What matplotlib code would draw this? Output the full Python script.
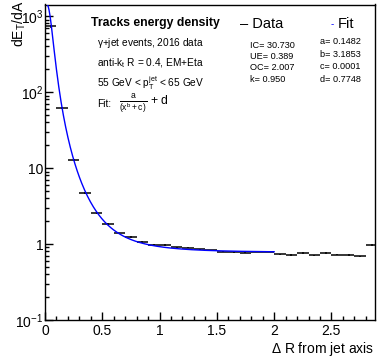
import matplotlib
matplotlib.use('Agg')
import matplotlib.pyplot as plt
import numpy as np

plt.rcParams['font.family'] = ['Liberation Sans', 'DejaVu Sans']
plt.rcParams['mathtext.fontset'] = 'custom'
plt.rcParams['mathtext.rm'] = 'Liberation Sans'
plt.rcParams['mathtext.it'] = 'Liberation Sans'
plt.rcParams['mathtext.bf'] = 'Liberation Sans:bold'

# bins de 0.1 en Delta R
bin_lo = [0.0, 0.1, 0.2, 0.3, 0.4, 0.5, 0.6, 0.7, 0.8, 0.9,
          1.0, 1.1, 1.2, 1.3, 1.4, 1.5, 1.6, 1.7, 1.8, 1.9,
          2.0, 2.1, 2.2, 2.3, 2.4, 2.5, 2.6, 2.7, 2.8]
dens = [730, 62, 12.6, 4.7, 2.55, 1.83, 1.38, 1.23, 1.06, 0.97,
        0.97, 0.90, 0.89, 0.85, 0.83, 0.79, 0.775, 0.77, 0.79, 0.79,
        0.73, 0.72, 0.76, 0.71, 0.76, 0.725, 0.72, 0.69, 0.97]
dens_err = [25, 2.0, 0.4, 0.15, 0.07, 0.05, 0.03, 0.03, 0.02, 0.02,
            0.02, 0.015, 0.015, 0.015, 0.015, 0.015, 0.015, 0.015, 0.015, 0.015,
            0.015, 0.015, 0.015, 0.015, 0.015, 0.015, 0.015, 0.015, 0.02]

# parámetros del ajuste a/(x^b+c)+d
fit_a, fit_b, fit_c, fit_d = 0.1482, 3.1853, 0.0001, 0.7748
fit_range = (0.0, 2.0)

info_left = ['IC= 30.730', 'UE= 0.389', 'OC= 2.007', 'k= 0.950']
info_right = ['a= 0.1482', 'b= 3.1853', 'c= 0.0001', 'd= 0.7748']

W, H = 384, 362
fig = plt.figure(figsize=(W/100, H/100), dpi=100)
fig.patch.set_facecolor('white')
ax = fig.add_axes([45/W, 1-320/H, 329.5/W, 315.5/H])

x = np.array(bin_lo) + 0.05
ax.errorbar(x, dens, xerr=0.05, yerr=dens_err, fmt='none',
            ecolor='black', elinewidth=1.1, capsize=0, zorder=3)

xf = np.linspace(fit_range[0], fit_range[1], 400)
yf = fit_a/(xf**fit_b+fit_c)+fit_d
ax.plot(xf, yf, color='#0000ff', lw=1.0, zorder=4)

ax.set_yscale('log')
ax.set_xlim(0, 2.876)
ax.set_ylim(0.1, 1420)
ax.set_xticks([0, 0.5, 1, 1.5, 2, 2.5])
ax.set_xticklabels(['0', '0.5', '1', '1.5', '2', '2.5'])
ax.set_xticks(np.arange(0, 2.85, 0.1), minor=True)
ax.set_yticks([0.1, 1, 10, 100, 1000])
ax.set_yticklabels(['$10^{-1}$', '1', '10', '$10^{2}$', '$10^{3}$'])
ax.tick_params(which='both', direction='in', labelsize=10, top=False, right=False)
ax.tick_params(which='major', length=6, width=1)
ax.tick_params(which='minor', length=3, width=1)
ax.tick_params(axis='x', pad=3)
ax.tick_params(axis='y', pad=1)
for s in ax.spines.values():
    s.set_linewidth(1)
    s.set_color('black')

ax.set_xlabel(r'$\Delta$ R from jet axis', fontsize=10, loc='right', labelpad=1)
fig.text(19/W, 1-1/H, 'dE$_{T}$/dA', rotation=90, ha='center', va='top', fontsize=10)

def t(px, py, s, **kw):
    fig.text(px/W, 1-py/H, s, va='center', ha='left', **kw)

t(91, 23, 'Tracks energy density', fontsize=8.8, fontweight='bold')
t(97, 43, r'$\gamma$+jet events, 2016 data', fontsize=7.3)
t(97, 63, 'anti-k$_{t}$ R = 0.4, EM+Eta', fontsize=7.3)
t(97, 83, '55 GeV < p$_{T}^{jet}$ < 65 GeV', fontsize=7.3)
t(97, 104, 'Fit:', fontsize=7.3)
t(119, 104, r'$\frac{a}{(x^{b}+c)}$ + d', fontsize=8.8)

t(240, 24, '– Data', fontsize=10.5)
t(331, 24, '-', fontsize=7, color='#0000ff')
t(338, 24, 'Fit', fontsize=10.5)
for i, s in enumerate(info_left):
    t(250, 45+11.5*i, s, fontsize=6.6)
for i, s in enumerate(info_right):
    t(320, 42+12.4*i, s, fontsize=6.6)

fig.savefig('out.png', dpi=100)
